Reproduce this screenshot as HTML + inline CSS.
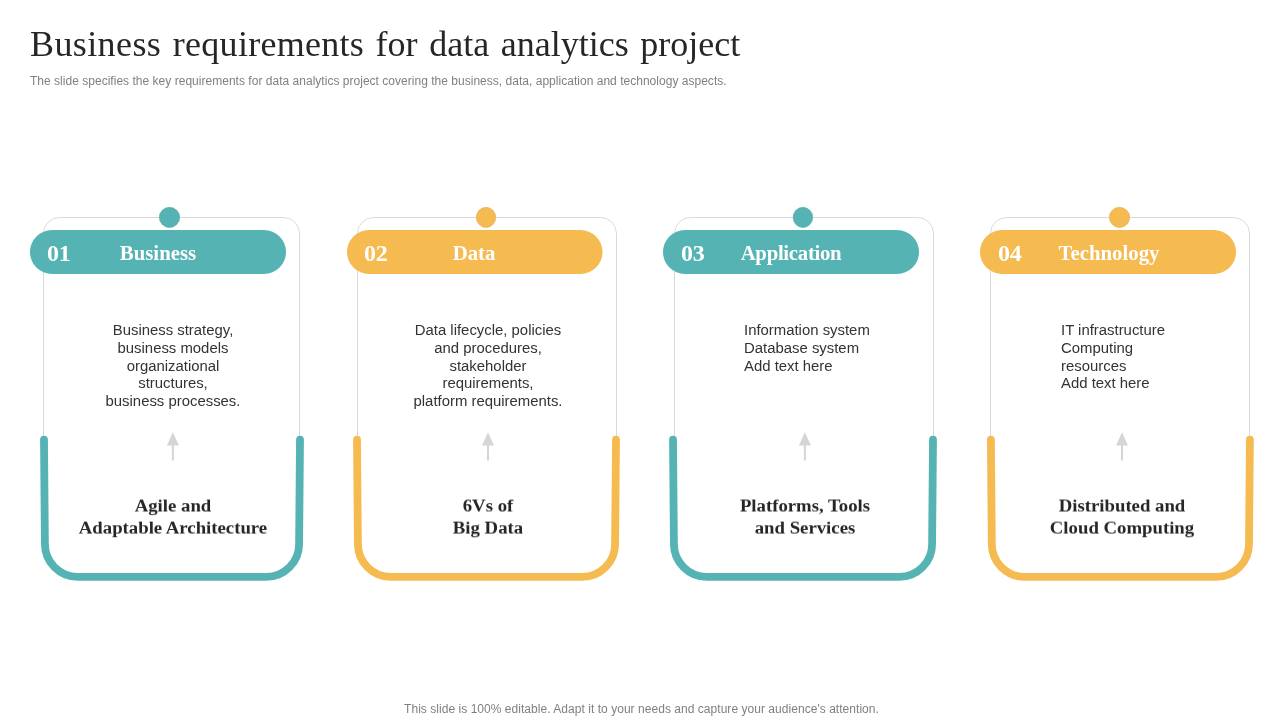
<!DOCTYPE html>
<html>
<head>
<meta charset="utf-8">
<title>Business requirements for data analytics project</title>
<style>
  html, body { margin: 0; padding: 0; }
  body { width: 1280px; height: 720px; background: #ffffff; position: relative; overflow: hidden;
         font-family: "Liberation Sans", sans-serif; }
  .abs { position: absolute; }
  div.abs { will-change: transform; }
  #title { left: 30px; top: 21.5px; font-family: "Liberation Serif", serif; font-size: 36px; color: #262626;
           white-space: nowrap; line-height: 44px; word-spacing: 2.6px; }
  #sub { left: 30px; top: 73px; letter-spacing: .022px; font-size: 12px; color: #808080; white-space: nowrap; line-height: 16px; }
  #foot { letter-spacing: .04px; left: 0; width: 1283px; top: 701px; text-align: center; font-size: 12px; color: #808080; white-space: nowrap; line-height: 16px; }
  svg#shapes { left: 0; top: 0; }
  .num { letter-spacing: -.2px; font-family: "Liberation Serif", serif; font-weight: bold; font-size: 24px; color: #fff; line-height: 44px; top: 231px; white-space: nowrap; }
  .head { font-family: "Liberation Serif", serif; font-weight: bold; font-size: 20.8px; color: #fff; line-height: 44px; top: 231px; width: 256px; text-align: center; white-space: nowrap; }
  .body { font-size: 14.9px; color: #333; line-height: 17.78px; top: 322px; white-space: nowrap; }
  .body.c { text-align: center; width: 256px; }
  .bot { font-family: "Liberation Serif", serif; font-weight: bold; font-size: 18.75px; color: #262626; line-height: 23.9px; top: 493px; transform: scaleY(.92); transform-origin: 50% 50%; width: 260px; text-align: center; white-space: nowrap; }
</style>
</head>
<body>
<div id="title" class="abs"><span style="letter-spacing:.4px">Business</span> <span style="letter-spacing:.27px">requirements</span> for data analytics project</div>
<div id="sub" class="abs">The slide specifies the key requirements for data analytics project covering the business, data, application and technology aspects.</div>

<svg id="shapes" class="abs" width="1280" height="720" viewBox="0 0 1280 720">
  <!-- thin card borders -->
  <g fill="none" stroke="#d9d9d9" stroke-width="1">
    <path d="M43.5 440 V233.5 a16 16 0 0 1 16 -16 H283.5 a16 16 0 0 1 16 16 V440"/>
    <path d="M357.5 440 V233.5 a16 16 0 0 1 16 -16 H600.5 a16 16 0 0 1 16 16 V440"/>
    <path d="M674.5 440 V233.5 a16 16 0 0 1 16 -16 H917.5 a16 16 0 0 1 16 16 V440"/>
    <path d="M990.5 440 V233.5 a16 16 0 0 1 16 -16 H1233.5 a16 16 0 0 1 16 16 V440"/>
  </g>
  <!-- U shapes -->
  <g fill="none" stroke-width="7.8" stroke-linecap="round">
    <path stroke="#55b3b4" d="M44 439.6 L44.9 543.9 a33 33 0 0 0 33 33 H266.1 a33 33 0 0 0 33 -33 L300 439.6"/>
    <path stroke="#f5ba50" d="M357 439.6 L357.9 543.9 a33 33 0 0 0 33 33 H582.1 a33 33 0 0 0 33 -33 L616 439.6"/>
    <path stroke="#55b3b4" d="M673 439.6 L673.9 543.9 a33 33 0 0 0 33 33 H899.1 a33 33 0 0 0 33 -33 L933 439.6"/>
    <path stroke="#f5ba50" d="M990.9 439.6 L991.8 543.9 a33 33 0 0 0 33 33 H1216.0 a33 33 0 0 0 33 -33 L1249.9 439.6"/>
  </g>
  <!-- pills -->
  <rect x="30" y="230" width="256" height="44" rx="22" fill="#55b3b4"/>
  <rect x="347" y="230" width="255.5" height="44" rx="22" fill="#f5ba50"/>
  <rect x="663" y="230" width="256" height="44" rx="22" fill="#55b3b4"/>
  <rect x="980" y="230" width="256" height="44" rx="22" fill="#f5ba50"/>
  <!-- dots -->
  <ellipse cx="169.5" cy="217.4" rx="10.2" ry="10.1" fill="#55b3b4" stroke="#5aa9a9" stroke-width=".6"/>
  <ellipse cx="486" cy="217.4" rx="9.7" ry="10.1" fill="#f5ba50" stroke="#e0ad55" stroke-width=".6"/>
  <ellipse cx="802.9" cy="217.4" rx="9.8" ry="10.1" fill="#55b3b4" stroke="#5aa9a9" stroke-width=".6"/>
  <ellipse cx="1119.5" cy="217.4" rx="10.15" ry="10.1" fill="#f5ba50" stroke="#e0ad55" stroke-width=".6"/>
  <!-- arrows -->
  <g fill="#d5d5d5">
    <path d="M172.9 432.2 l6 13.4 h-5 v15 h-2 v-15 h-5 z"/>
    <path d="M488 432.2 l6 13.4 h-5 v15 h-2 v-15 h-5 z"/>
    <path d="M804.9 432.2 l6 13.4 h-5 v15 h-2 v-15 h-5 z"/>
    <path d="M1122 432.2 l6 13.4 h-5 v15 h-2 v-15 h-5 z"/>
  </g>
</svg>

<div class="abs num" style="left:47px">01</div>
<div class="abs num" style="left:364px">02</div>
<div class="abs num" style="left:681px">03</div>
<div class="abs num" style="left:998px">04</div>

<div class="abs head" style="left:30px">Business</div>
<div class="abs head" style="left:346px">Data</div>
<div class="abs head" style="left:663.2px;letter-spacing:-.3px">Application</div>
<div class="abs head" style="left:981.3px">Technology</div>

<div class="abs body c" style="left:44.5px">Business strategy,<br>business models<br>organizational<br>structures,<br>business processes.</div>
<div class="abs body c" style="left:359.5px">Data lifecycle, policies<br>and procedures,<br>stakeholder<br>requirements,<br>platform requirements.</div>
<div class="abs body" style="left:744px">Information system<br>Database system<br>Add text here</div>
<div class="abs body" style="left:1061px">IT infrastructure<br>Computing<br>resources<br>Add text here</div>

<div class="abs bot" style="left:43px">Agile and<br>Adaptable Architecture</div>
<div class="abs bot" style="left:358px">6Vs of<br>Big Data</div>
<div class="abs bot" style="left:675px">Platforms, Tools<br>and Services</div>
<div class="abs bot" style="left:992px">Distributed and<br>Cloud Computing</div>

<div id="foot" class="abs">This slide is 100% editable. Adapt it to your needs and capture your audience's attention.</div>
</body>
</html>
